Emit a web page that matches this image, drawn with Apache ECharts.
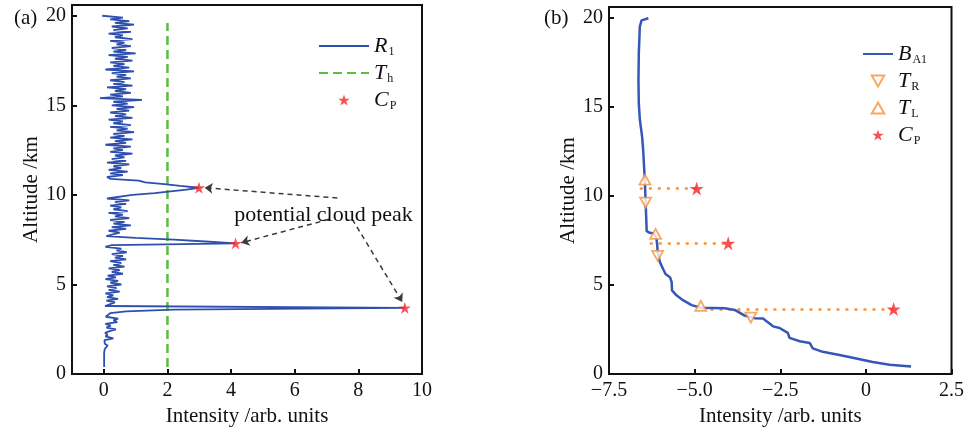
<!DOCTYPE html>
<html>
<head>
<meta charset="utf-8">
<script src="https://cdn.jsdelivr.net/npm/echarts@6/dist/echarts.min.js"></script>
<style>
  html, body { margin: 0; padding: 0; background: #fff; }
  #chart { width: 967px; height: 432px; }
</style>
</head>
<body>
<div id="chart"></div>
<script>
// ---------- Panel (a): range-corrected signal R1 on 0.1 km range bins ----------
const r1AltitudeStart = 0.4;   // km, first range bin
const r1AltitudeStep = 0.1;    // km, bin width
const r1Intensity = [
  // 0.4 - 1.5 km
  0.01, 0.02, 0.01, 0.02, 0.01, 0.02, 0.01, 0.02, 0.01, 0.02, 0.03, 0.02,
  // 1.6 - 3.6 km
  0.12, 0.03, 0.05, 0.02, 0.30, 0.05, 0.12, 0.04, 0.18, 0.38,
  0.08, 0.22, 0.05, 0.42, 0.30, 0.45, 0.06, 0.08, 0.20, 0.70, 2.20,
  // 3.7 km (low cloud)
  9.46,
  // 3.8 - 7.0 km
  0.04,
  0.05, 0.35, 0.08, 0.45, 0.10, 0.30, 0.05, 0.50, 0.15, 0.40,
  0.10, 0.55, 0.20, 0.45, 0.05, 0.38, 0.12, 0.60, 0.25, 0.50,
  0.15, 0.65, 0.30, 0.55, 0.20, 0.70, 0.35, 0.60, 0.25, 0.72,
  0.40, 0.55,
  // 7.1 - 7.7 km (middle cloud)
  0.05, 0.25, 4.14, 3.20, 2.20, 1.00, 0.08,
  // 7.8 - 9.8 km
  0.10, 0.50, 0.15, 0.70, 0.25, 0.85, 0.30, 0.65, 0.20, 0.80,
  0.35, 0.60, 0.15, 0.75, 0.30, 0.55, 0.20, 0.70, 0.35, 0.80,
  0.10,
  // 9.9 - 10.9 km (upper cloud)
  0.10, 0.90, 1.60, 2.10, 2.60, 2.99, 2.40, 1.90, 1.30, 1.10, 0.20,
  // 11.0 - 20.0 km
  0.10, 0.60, 0.20, 0.75, 0.15, 0.55, 0.30, 0.80, 0.10, 0.70,
  0.25, 0.65, 0.35, 0.90, 0.20, 0.60, 0.30, 0.85, 0.05, 0.70,
  0.35, 0.90, 0.20, 0.65, 0.30, 0.95, 0.40, 0.75, 0.20, 0.85,
  0.30, 0.60, 0.15, 0.90, 0.35, 0.70, 0.20, 0.80, 0.40, 0.95,
  0.25, 0.75, 0.30, 1.20, -0.12, 0.60, 0.20, 0.85, 0.35, 0.70,
  0.10, 0.90, 0.30, 0.65, 0.20, 0.85, 0.40, 0.70, 0.25, 0.95,
  0.05, 0.80, 0.30, 0.65, 0.20, 0.90, 0.35, 0.75, 0.15, 1.00,
  0.30, 0.70, 0.25, 0.85, 0.40, 0.65, 0.20, 0.90, 0.35, 0.60,
  0.15, 0.85, 0.30, 0.75, 0.25, 0.95, 0.35, 0.80, 0.20, 0.60,
  -0.05
];
const thresholdValue = 2.0;
const thresholdAltitude = [0.4, 19.6];
const peakIntensityA = [2.99, 4.14, 9.46];
const peakAltitudeA = [10.4, 7.3, 3.7];
// annotation arrows: text anchor -> peak
const arrowFromX = [7.34, 7.08, 7.81];
const arrowFromY = [9.83, 8.64, 8.64];
const arrowToX = [3.17, 4.32, 9.38];
const arrowToY = [10.4, 7.33, 4.03];
const noteText = 'potential cloud peak';
const notePos = [6.92, 8.82];
const xTicksA = [0, 2, 4, 6, 8, 10];
const yTicks = [0, 5, 10, 15, 20];

// ---------- Panel (b): accumulated signal B_A1 ----------
const baIntensity = [
  -6.35, -6.55, -6.60, -6.63, -6.64, -6.63, -6.60, -6.53, -6.50, -6.47,
  -6.45, -6.43, -6.41, -6.40, -6.31, -6.18, -6.11, -6.09, -6.08, -6.01,
  -5.92, -5.85, -5.72, -5.67, -5.66, -5.53, -5.34, -5.09, -4.80, -4.12,
  -3.83, -3.54, -3.25, -3.00, -2.90, -2.71, -2.52, -2.28, -2.23, -1.93,
  -1.64, -1.55, -1.26, -0.77, -0.28, 0.20, 0.69, 1.32
];
const baAltitude = [
  19.97, 19.85, 19.50, 18.00, 16.50, 15.20, 14.30, 13.27, 12.50, 11.43,
  10.70, 9.59, 8.60, 8.02, 7.93, 7.89, 7.56, 7.20, 6.82, 6.27,
  5.90, 5.62, 5.44, 5.16, 4.70, 4.42, 4.15, 3.87, 3.72, 3.69,
  3.60, 3.28, 3.14, 3.12, 2.96, 2.68, 2.59, 2.31, 2.03, 1.84,
  1.75, 1.44, 1.25, 1.07, 0.88, 0.68, 0.52, 0.42
];
const trIntensity = [-6.43, -6.08, -3.36];
const trAltitude = [9.62, 6.64, 3.17];
const tlIntensity = [-6.45, -6.14, -4.82];
const tlAltitude = [10.91, 7.87, 3.83];
const peakIntensityB = [-4.94, -4.02, 0.81];
const peakAltitudeB = [10.41, 7.34, 3.65];
const guideStartB = [-6.60, -6.31, -4.80];
const xTicksB = [-7.5, -5.0, -2.5, 0, 2.5];

// ---------- styling ----------
const SERIF = '"Liberation Serif", "DejaVu Serif", serif';
const INK = '#111111';
const BLUE_A = '#2f4fae';
const BLUE_B = '#3557b8';
const GREEN = '#5cbc45';
const RED = '#f5262c';
const ORANGE = '#f6923c';
const STAR = 'path://M50,0 L61.8,35.4 L99,35.4 L69,57.3 L80.4,92.7 L50,70.8 L19.6,92.7 L31,57.3 L1,35.4 L38.2,35.4 Z';
const TRI_DOWN = 'path://M0,0 L100,0 L50,88 Z';
const TRI_UP = 'path://M50,0 L100,88 L0,88 Z';

const r1Data = r1Intensity.map((v, i) => [v, +(r1AltitudeStart + i * r1AltitudeStep).toFixed(2)]);
const pairs = (xs, ys) => xs.map((x, i) => [x, ys[i]]);

function fmtMinus(v) {
  if (v === 0) return '0';
  return v.toFixed(1).replace('-', '\u2212');
}

function xAxisCfg(grid, min, max, ticks, fmt) {
  return {
    type: 'value', gridIndex: grid, min: min, max: max,
    axisLine: { show: true, onZero: false, lineStyle: { color: INK, width: 2 } },
    axisTick: { show: true, inside: true, length: 5, customValues: ticks, lineStyle: { color: INK, width: 2 } },
    axisLabel: { customValues: ticks, fontFamily: SERIF, fontSize: 20, color: INK, margin: 7, formatter: fmt },
    splitLine: { show: false },
    name: 'Intensity /arb. units', nameLocation: 'middle', nameGap: 27,
    nameTextStyle: { fontFamily: SERIF, fontSize: 21, color: INK }
  };
}
function yAxisCfg(grid, gap) {
  return {
    type: 'value', gridIndex: grid, min: 0, max: 20.6,
    axisLine: { show: true, onZero: false, lineStyle: { color: INK, width: 2 } },
    axisTick: { show: true, inside: true, length: 5, customValues: yTicks, lineStyle: { color: INK, width: 2 } },
    axisLabel: { customValues: yTicks, fontFamily: SERIF, fontSize: 20, color: INK, margin: 6 },
    splitLine: { show: false },
    name: 'Altitude /km', nameLocation: 'middle', nameGap: gap,
    nameTextStyle: { fontFamily: SERIF, fontSize: 21, color: INK }
  };
}

const legendNames = {
  R1: ['R', '1'], Th: ['T', 'h'], CPa: ['C', 'P'],
  BA1: ['B', 'A1'], TR: ['T', 'R'], TL: ['T', 'L'], CPb: ['C', 'P']
};
const legendText = {
  color: INK,
  rich: {
    i: { fontFamily: SERIF, fontStyle: 'italic', fontSize: 22, lineHeight: 24, color: INK },
    s: { fontFamily: SERIF, fontSize: 12, lineHeight: 8, verticalAlign: 'bottom', color: INK, padding: [0, 0, 0, 1] }
  }
};
const legendFmt = name => '{i|' + legendNames[name][0] + '}{s|' + legendNames[name][1] + '}';
// line entries show the bare stroke only
const lineOnly = name => ({ name: name, itemStyle: { color: 'transparent', borderWidth: 0, opacity: 0 } });

const option = {
  backgroundColor: '#fff',
  animation: false,
  title: [
    { text: '(a)', left: 9, top: 3, textStyle: { fontFamily: SERIF, fontSize: 21, fontWeight: 'normal', color: INK } },
    { text: '(b)', left: 539, top: 3, textStyle: { fontFamily: SERIF, fontSize: 21, fontWeight: 'normal', color: INK } }
  ],
  grid: [
    { left: 72, right: 545, top: 5, bottom: 52, show: true, borderColor: INK, borderWidth: 2, backgroundColor: 'transparent' },
    { left: 609, right: 14, top: 7, bottom: 52, show: true, borderColor: INK, borderWidth: 2, backgroundColor: 'transparent' }
  ],
  xAxis: [
    xAxisCfg(0, -1, 10, xTicksA, v => String(v)),
    xAxisCfg(1, -7.5, 2.5, xTicksB, fmtMinus)
  ],
  yAxis: [yAxisCfg(0, 25), yAxisCfg(1, 30)],
  legend: [
    {
      data: [lineOnly('R1'), lineOnly('Th'), 'CPa'], orient: 'vertical', left: 313, top: 30,
      itemWidth: 50, itemHeight: 11, itemGap: 4, selectedMode: false,
      formatter: legendFmt, textStyle: legendText
    },
    {
      data: [lineOnly('BA1'), 'TR', 'TL', 'CPb'], orient: 'vertical', left: 857, top: 38,
      itemWidth: 30, itemHeight: 11, itemGap: 4, selectedMode: false,
      formatter: legendFmt, textStyle: legendText
    }
  ],
  series: [
    {
      name: 'R1', type: 'line', xAxisIndex: 0, yAxisIndex: 0, data: r1Data,
      symbol: 'none', lineStyle: { color: BLUE_A, width: 1.8 }, itemStyle: { color: BLUE_A }, z: 3
    },
    {
      name: 'Th', type: 'line', xAxisIndex: 0, yAxisIndex: 0,
      data: thresholdAltitude.map(a => [thresholdValue, a]),
      symbol: 'none', lineStyle: { color: GREEN, width: 2.5, type: [9, 5] }, itemStyle: { color: GREEN }, z: 2
    },
    {
      name: 'CPa', type: 'scatter', xAxisIndex: 0, yAxisIndex: 0,
      data: pairs(peakIntensityA, peakAltitudeA),
      symbol: STAR, symbolSize: 12, itemStyle: { color: RED }, z: 6
    },
    {
      name: 'arrows', type: 'lines', coordinateSystem: 'cartesian2d', xAxisIndex: 0, yAxisIndex: 0,
      data: arrowFromX.map((x, i) => ({ coords: [[x, arrowFromY[i]], [arrowToX[i], arrowToY[i]]] })),
      symbol: ['none', 'arrow'], symbolSize: 8,
      lineStyle: { color: '#3a3a3a', width: 1.5, type: [5, 4], opacity: 1 }, z: 5
    },
    {
      name: 'note', type: 'scatter', xAxisIndex: 0, yAxisIndex: 0,
      data: [notePos], symbolSize: 1, itemStyle: { color: '#fff', opacity: 1 }, silent: true,
      label: {
        show: true, position: [0, 0], align: 'center', verticalAlign: 'middle',
        formatter: noteText, fontFamily: SERIF, fontSize: 22, color: INK,
        textBorderWidth: 0, opacity: 1
      },
      z: 7
    },
    {
      name: 'BA1', type: 'line', xAxisIndex: 1, yAxisIndex: 1,
      data: pairs(baIntensity, baAltitude),
      symbol: 'none', lineStyle: { color: BLUE_B, width: 2.5 }, itemStyle: { color: BLUE_B }, z: 3
    },
    {
      name: 'guides', type: 'lines', coordinateSystem: 'cartesian2d', xAxisIndex: 1, yAxisIndex: 1,
      data: guideStartB.map((x, i) => ({ coords: [[x, peakAltitudeB[i]], [peakIntensityB[i], peakAltitudeB[i]]] })),
      lineStyle: { color: ORANGE, width: 2.5, type: [3, 6], opacity: 1 }, z: 2
    },
    {
      name: 'TR', type: 'scatter', xAxisIndex: 1, yAxisIndex: 1,
      data: pairs(trIntensity, trAltitude),
      symbol: TRI_DOWN, symbolSize: [11, 10],
      itemStyle: { color: '#fff', borderColor: ORANGE, borderWidth: 1.8 }, z: 5
    },
    {
      name: 'TL', type: 'scatter', xAxisIndex: 1, yAxisIndex: 1,
      data: pairs(tlIntensity, tlAltitude),
      symbol: TRI_UP, symbolSize: [11, 10],
      itemStyle: { color: '#fff', borderColor: ORANGE, borderWidth: 1.8 }, z: 5
    },
    {
      name: 'CPb', type: 'scatter', xAxisIndex: 1, yAxisIndex: 1,
      data: pairs(peakIntensityB, peakAltitudeB),
      symbol: STAR, symbolSize: 14, itemStyle: { color: RED }, z: 6
    }
  ]
};

const chart = echarts.init(document.getElementById('chart'), null, { renderer: 'canvas' });
chart.setOption(option);
</script>
</body>
</html>
